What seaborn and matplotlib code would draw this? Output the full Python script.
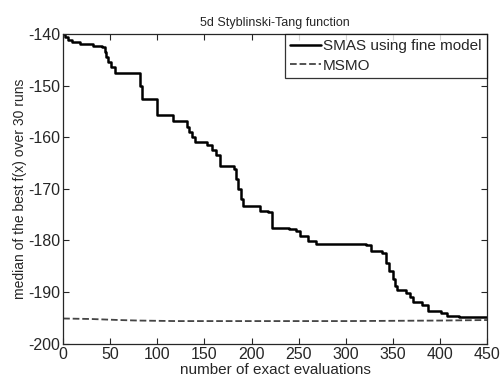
import numpy as np
import pandas as pd
import matplotlib
matplotlib.use('Agg')
import matplotlib.pyplot as plt
import seaborn as sns

# SMAS using fine model (step curve)
smas_x = [0, 2, 5, 9, 18, 32, 41, 44, 46, 48, 51, 55, 82, 84, 100, 117, 131, 134, 137, 140,
          153, 158, 162, 167, 181, 184, 186, 189, 191, 209, 217, 222, 240, 247, 251, 260,
          269, 300, 322, 327, 339, 343, 346, 350, 352, 355, 364, 368, 371, 381, 387, 401,
          408, 420, 450]
smas_y = [-140, -140.6, -141.1, -141.6, -142.0, -142.3, -142.5, -143.5, -144.5, -145.5, -146.5,
          -147.5, -150, -152.6, -155.8, -156.8, -158, -159, -160, -160.9,
          -161.6, -162.5, -163.5, -165.5, -166.2, -168, -170, -172, -173.3, -174.2, -174.5,
          -177.5, -177.8, -178.1, -179.1, -180.1,
          -180.6, -180.7, -180.9, -182, -182.5, -184.3, -185.9, -187.5, -188.8, -189.5, -190.2,
          -191, -191.9, -192.5, -193.7, -194, -194.6, -194.8, -194.8]

# MSMO
msmo_x = [0, 30, 60, 80, 120, 200, 300, 400, 450]
msmo_y = [-195.1, -195.2, -195.4, -195.5, -195.6, -195.6, -195.6, -195.5, -195.4]

x_ticks = list(range(0, 451, 50))
y_ticks = list(range(-200, -139, 10))

sns.set_style('ticks')
plt.rcParams['font.family'] = ['Liberation Sans', 'DejaVu Sans']
plt.rcParams['axes.unicode_minus'] = False

fig = plt.figure(figsize=(5.01, 3.85), dpi=100)
ax = fig.add_axes([0.126, 0.107, 0.846, 0.805])

df_smas = pd.DataFrame({'x': smas_x, 'y': smas_y})
df_msmo = pd.DataFrame({'x': msmo_x, 'y': msmo_y})

sns.lineplot(data=df_smas, x='x', y='y', ax=ax, color='black', lw=1.8,
             drawstyle='steps-post', label='SMAS using fine model')
sns.lineplot(data=df_msmo, x='x', y='y', ax=ax, color='#444444', lw=1.3,
             linestyle='--', dashes=(2.0, 1.5), label='MSMO')

ax.set_xlim(0, 450)
ax.set_ylim(-200, -140)
ax.set_xticks(x_ticks)
ax.set_yticks(y_ticks)
ax.tick_params(direction='in', top=True, right=True, labelsize=11.5, length=4, width=0.8, pad=2)
for s in ax.spines.values():
    s.set_linewidth(0.9)

ax.set_xlabel('number of exact evaluations', fontsize=11, labelpad=1)
ax.set_ylabel('median of the best f(x) over 30 runs', fontsize=10, labelpad=1)
ax.set_title('5d Styblinski-Tang function', fontsize=9, pad=6)

leg = ax.legend(loc='upper right', fontsize=11, frameon=True, fancybox=False,
                handlelength=2.0, handletextpad=0.15, borderpad=0.35, labelspacing=0.35,
                borderaxespad=0.0)
leg.get_frame().set_edgecolor('black')
leg.get_frame().set_linewidth(0.9)

fig.savefig('out.png', dpi=100)
